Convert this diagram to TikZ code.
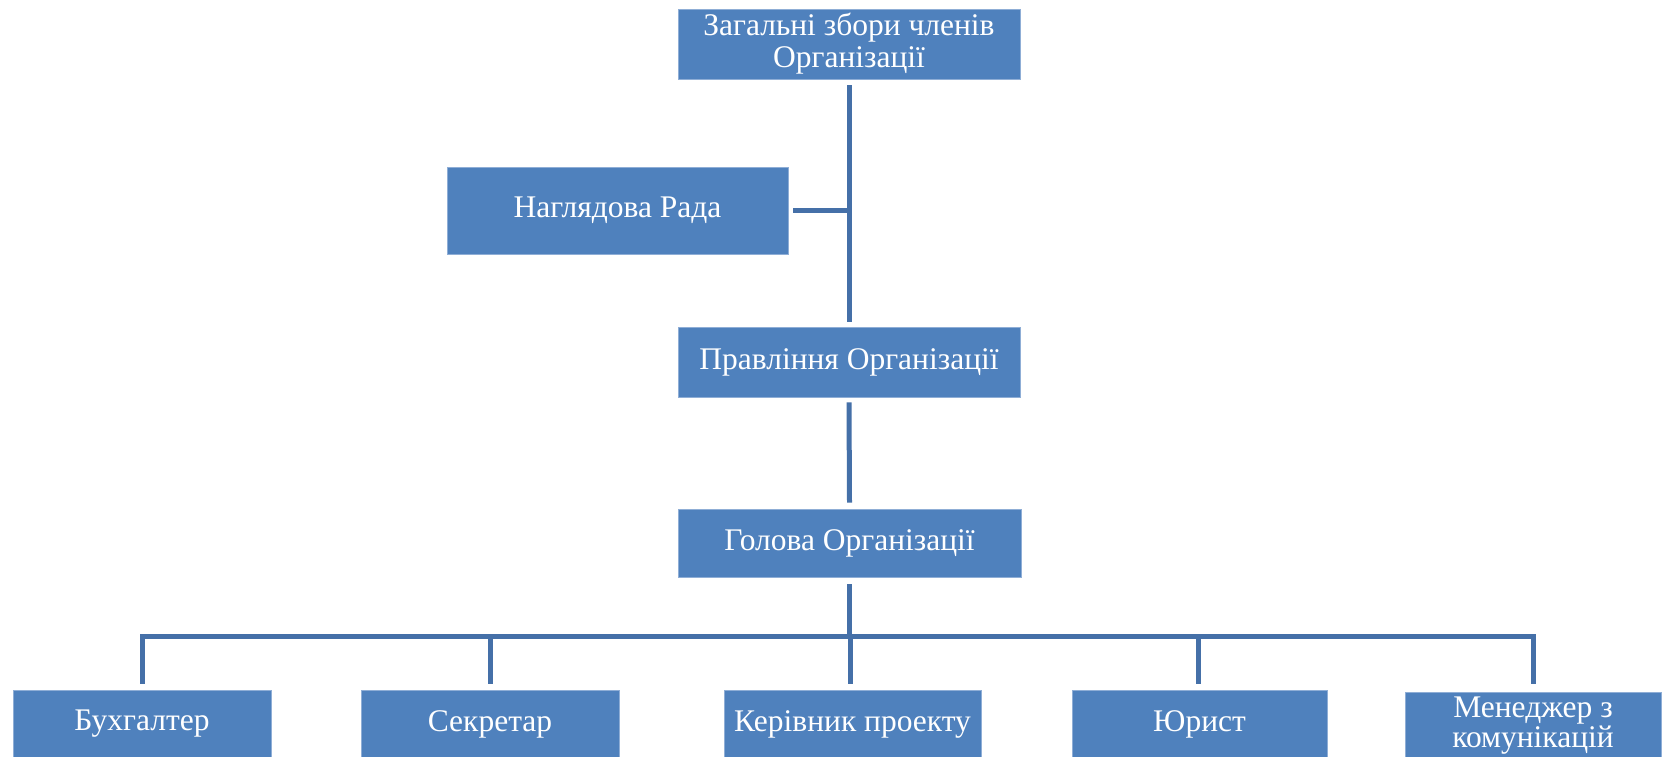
\documentclass[tikz,border=0pt]{standalone}
\usepackage{fontspec}
\setmainfont{Liberation Serif}
\definecolor{boxblue}{HTML}{4F81BD}
\definecolor{boxedge}{HTML}{8FAED6}
\definecolor{linkblue}{HTML}{4570A8}
\tikzset{
  orgbox/.style={rectangle, fill=boxblue, draw=boxedge, line width=0.8pt,
    inner sep=0pt, text=white, align=center,
    font=\fontsize{31.5}{32}\selectfont},
  conn/.style={draw=linkblue, line width=5pt}
}
\begin{document}
\begin{tikzpicture}[x=1pt,y=-1pt]
\clip (0,0) rectangle (1667,756);
\fill[white] (0,0) rectangle (1667,756);
% nodes
\node[orgbox, minimum width=342pt, minimum height=70pt] (zag) at (849,44) {Загальні збори членів\\Організації};
\node[orgbox, minimum width=341pt, minimum height=87pt] (nag) at (617.5,210.5) {Наглядова Рада};
\node[orgbox, minimum width=342pt, minimum height=70pt] (prav) at (849,362) {Правління Організації};
\node[orgbox, minimum width=343pt, minimum height=68pt] (hol) at (849.5,543) {Голова Організації};
\node[orgbox, minimum width=258pt, minimum height=68pt] (b1) at (142,724) {Бухгалтер};
\node[orgbox, minimum width=258pt, minimum height=68pt] (b2) at (490,724) {Секретар};
\node[orgbox, minimum width=257pt, minimum height=68pt] (b3) at (852.5,724) {Керівник проекту};
\node[orgbox, minimum width=255pt, minimum height=68pt] (b4) at (1199.5,724) {Юрист};
\node[orgbox, minimum width=256pt, minimum height=68pt, font=\fontsize{31.5}{30}\selectfont] (b5) at (1533,726) {Менеджер з\\комунікацій};
% connectors
\coordinate (busy) at (0,636);
\draw[conn] ([yshift=-6pt]zag.south) -- ([yshift=5pt]prav.north);
\draw[conn] ([xshift=5pt]nag.east) -- (nag.east -| zag.south);
\draw[conn] ([yshift=-5pt]prav.south) -- ([yshift=6pt]hol.north);
\draw[conn] ([yshift=-7pt]hol.south) -- (hol.south |- busy);
\draw[conn] ([yshift=6pt]b1.north) -- (b1.north |- busy) -- (b5.north |- busy) -- ([yshift=8pt]b5.north);
\draw[conn] (b2.north |- busy) -- ([yshift=6pt]b2.north);
\draw[conn] ([xshift=-2pt]b3.north |- busy) -- ([xshift=-2pt,yshift=6pt]b3.north);
\draw[conn] ([xshift=-1pt]b4.north |- busy) -- ([xshift=-1pt,yshift=6pt]b4.north);
\end{tikzpicture}
\end{document}
